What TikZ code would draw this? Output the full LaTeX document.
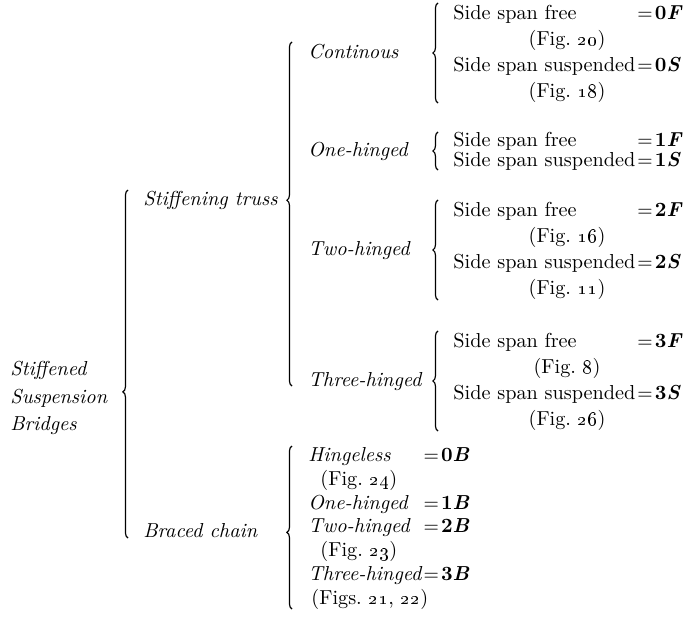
\documentclass[tikz,border=0pt]{standalone}
\usepackage{amsmath}
\usepackage{tikz}
\usetikzlibrary{decorations.pathreplacing}

\newcommand{\figno}[1]{(Fig.~\oldstylenums{#1})}
\newcommand{\eqv}[2]{\kern1pt$=$\kern1pt\textbf{#1\textit{#2}}}
\newcommand{\freeline}[2]{\rlap{Side span free}\phantom{Side span suspended}\eqv{#1}{#2}}
\newcommand{\suspline}[2]{Side span suspended\eqv{#1}{#2}}
\newcommand{\chainline}[3]{\rlap{\itshape #1}\phantom{\itshape Three-hinged}\eqv{#2}{#3}}

\begin{document}
\begin{tikzpicture}[x=0.4695pt,y=-0.4695pt,font=\fontsize{9.5pt}{13pt}\selectfont,
  txt/.style={inner sep=0pt,text height=1.6ex,text depth=0.4ex},
  row/.style={txt,anchor=west},
  lab/.style={txt,anchor=west,font=\fontsize{9.5pt}{13pt}\selectfont\itshape},
  brc/.style={decorate,decoration={brace,amplitude=2.4pt,aspect=#1},line width=0.55pt}]
\useasboundingbox (0,0) rectangle (685,642);

% first and second level
\node[anchor=west,inner sep=0pt,align=left,font=\fontsize{9.5pt}{13.1pt}\selectfont\itshape] (ssb) at (10,398) {Stiffened\\Suspension\\Bridges};
\node[lab] (truss) at (143,200) {Stiffening truss};
\node[lab] (chain) at (143,532) {Braced chain};

% stiffening truss
\node[lab] (cont) at (308,53) {Continous};
\node[lab] (one) at (308,151) {One-hinged};
\node[lab] (two) at (308,250) {Two-hinged};
\node[lab] (three) at (308,381) {Three-hinged};

\node[row] (cF) at (453,14) {\freeline{0}{F}};
\node[txt] (cFfig) at (567,40) {\figno{20}};
\node[row] (cS) at (453,66) {\suspline{0}{S}};
\node[txt] (cSfig) at (567,92) {\figno{18}};

\node[row] (oF) at (453,141) {\freeline{1}{F}};
\node[row] (oS) at (453,161) {\suspline{1}{S}};

\node[row] (tF) at (453,211) {\freeline{2}{F}};
\node[txt] (tFfig) at (567,237) {\figno{16}};
\node[row] (tS) at (453,263) {\suspline{2}{S}};
\node[txt] (tSfig) at (567,289) {\figno{11}};

\node[row] (hF) at (453,342) {\freeline{3}{F}};
\node[txt] (hFfig) at (567,368) {\figno{8}};
\node[row] (hS) at (453,394) {\suspline{3}{S}};
\node[txt] (hSfig) at (567,420) {\figno{26}};

% braced chain
\node[row] (bH) at (308,456) {\chainline{Hingeless}{0}{B}};
\node[row] (bHfig) at (320,480) {\figno{24}};
\node[row] (bOne) at (308,504) {\chainline{One-hinged}{1}{B}};
\node[row] (bTwo) at (308,527) {\chainline{Two-hinged}{2}{B}};
\node[row] (bTwofig) at (320,551) {\figno{23}};
\node[row] (bThree) at (308,575) {\chainline{Three-hinged}{3}{B}};
\node[row] (bThreefig) at (311,599) {(Figs.~\oldstylenums{21}, \oldstylenums{22})};

% braces
\coordinate (rootT) at (128,190);  \coordinate (rootB) at (128,538);
\coordinate (trussT) at (292,42);  \coordinate (trussB) at (292,386);
\coordinate (chainT) at (292,446); \coordinate (chainB) at (292,609);
\coordinate (contT) at (438,3);    \coordinate (contB) at (438,103);
\coordinate (oneT) at (438,132);   \coordinate (oneB) at (438,170);
\coordinate (twoT) at (438,200);   \coordinate (twoB) at (438,300);
\coordinate (threeT) at (438,331); \coordinate (threeB) at (438,431);

\draw[brc=0.42] (rootB) -- (rootT);
\draw[brc=0.54] (trussB) -- (trussT);
\draw[brc=0.47] (chainB) -- (chainT);
\draw[brc=0.5] (contB) -- (contT);
\draw[brc=0.5] (oneB) -- (oneT);
\draw[brc=0.5] (twoB) -- (twoT);
\draw[brc=0.5] (threeB) -- (threeT);
\end{tikzpicture}
\end{document}
